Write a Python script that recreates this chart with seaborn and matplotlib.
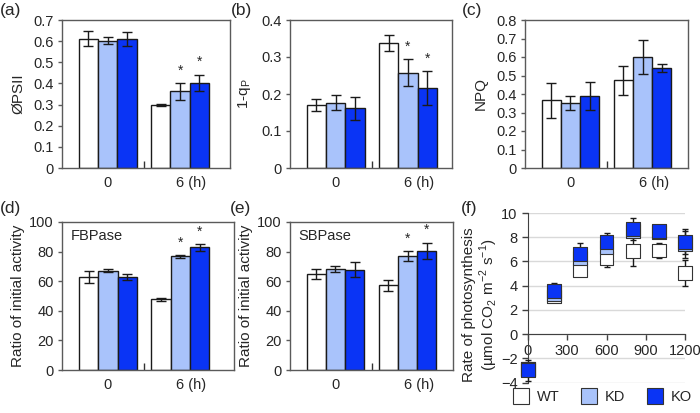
import numpy as np
import pandas as pd
import matplotlib
matplotlib.use("Agg")
import matplotlib.pyplot as plt
import matplotlib.transforms as mtransforms
from matplotlib.lines import Line2D
from matplotlib.ticker import FuncFormatter
import seaborn as sns

genotypes = ["WT", "KD", "KO"]
times = ["0", "6"]
colors = ["#ffffff", "#a9c3fb", "#0a34f5"]

# rows: WT, KD, KO ; columns: 0 h, 6 h
psii_mean = [[0.612, 0.300], [0.603, 0.363], [0.608, 0.403]]
psii_err = [[0.035, 0.005], [0.015, 0.040], [0.033, 0.038]]
psii_star = [[0, 0], [0, 1], [0, 1]]

qp_mean = [[0.170, 0.338], [0.176, 0.258], [0.161, 0.216]]
qp_err = [[0.016, 0.022], [0.020, 0.036], [0.032, 0.045]]
qp_star = [[0, 0], [0, 1], [0, 1]]

npq_mean = [[0.367, 0.474], [0.353, 0.601], [0.389, 0.540]]
npq_err = [[0.095, 0.077], [0.037, 0.093], [0.078, 0.022]]
npq_star = [[0, 0], [0, 0], [0, 0]]

fbp_mean = [[62.8, 47.9], [67.0, 76.7], [62.8, 82.8]]
fbp_err = [[3.8, 1.0], [1.1, 0.8], [2.0, 2.4]]
fbp_star = [[0, 0], [0, 1], [0, 1]]

sbp_mean = [[64.8, 57.1], [68.2, 77.0], [67.7, 80.4]]
sbp_err = [[3.6, 4.0], [1.9, 3.2], [5.0, 5.6]]
sbp_star = [[0, 0], [0, 1], [0, 1]]

light = [0, 200, 400, 600, 800, 1000, 1200]
photo_wt = [-2.9, 3.1, 5.3, 6.3, 6.85, 6.9, 5.05]
photo_wt_err = [0.3, 0.15, 0.3, 0.75, 1.2, 0.6, 1.1]
photo_kd = [-2.9, 3.3, 6.3, 7.2, 8.5, 8.4, 7.45]
photo_kd_err = [0.4, 0.3, 0.4, 0.6, 0.5, 0.5, 1.2]
photo_ko = [-3.0, 3.55, 6.6, 7.6, 8.7, 8.5, 7.6]
photo_ko_err = [0.85, 0.7, 0.9, 0.75, 0.9, 0.5, 0.95]

sns.set_style("ticks")
plt.rcParams["font.family"] = ["Liberation Sans", "DejaVu Sans"]
plt.rcParams["font.size"] = 10.5

SPINE = "#5a5a5a"
EDGE = "#1a1a1a"


def fmt(v, p):
    return "0" if abs(v) < 1e-9 else f"{v:g}"


def bar_panel(ax, mean, err, star, ylim, step, ylabel, xlim, pad, inset=None):
    rows = [(t, g, mean[i][j]) for i, g in enumerate(genotypes) for j, t in enumerate(times)]
    df = pd.DataFrame(rows, columns=["time", "genotype", "value"])
    sns.barplot(data=df, x="time", y="value", hue="genotype", order=times,
                hue_order=genotypes, palette=colors, saturation=1, width=0.8,
                edgecolor=EDGE, linewidth=1, errorbar=None, legend=False, ax=ax)
    centers = sorted(p.get_x() + p.get_width() / 2 for p in ax.patches)
    xs, ys, es, ss = [], [], [], []
    k = 0
    for j in range(len(times)):
        for i in range(len(genotypes)):
            xs.append(centers[k]); ys.append(mean[i][j]); es.append(err[i][j]); ss.append(star[i][j])
            k += 1
    ax.errorbar(xs, ys, yerr=es, fmt="none", ecolor=EDGE, elinewidth=1,
                capsize=3.8, capthick=1, zorder=3)
    for x, y, e, s in zip(xs, ys, es, ss):
        if s:
            ax.annotate("*", xy=(x, y + e), xytext=(0, 9), textcoords="offset points",
                        ha="center", va="center", fontsize=10)
    ax.set_xlim(*xlim)
    ax.set_ylim(*ylim)
    ax.set_yticks(np.arange(ylim[0], ylim[1] + step / 2, step))
    ax.yaxis.set_major_formatter(FuncFormatter(fmt))
    ax.set_xticks([0, 1])
    ax.set_xticklabels(["0", "6 (h)"])
    ax.set_xticks([0.5], minor=True)
    ax.tick_params(axis="x", which="major", length=0, pad=6, labelsize=10.5)
    ax.tick_params(axis="x", which="minor", direction="in", length=5, width=1, color="#333333")
    ax.tick_params(axis="y", direction="out", length=3, width=1, color=SPINE, pad=3, labelsize=10.5)
    shift = mtransforms.ScaledTranslation(8 / 72, 0, ax.figure.dpi_scale_trans)
    lab = ax.get_xticklabels()[1]
    lab.set_transform(lab.get_transform() + shift)
    ax.set_xlabel("")
    ax.set_ylabel(ylabel, fontsize=11, labelpad=pad)
    for sp in ax.spines.values():
        sp.set_visible(True)
        sp.set_color(SPINE)
        sp.set_linewidth(1)
    if inset:
        ax.annotate(inset, xy=(0, 1), xycoords="axes fraction", xytext=(6, -10),
                    textcoords="offset points", ha="left", va="center", fontsize=10.5)


fig = plt.figure(figsize=(7, 4.13), dpi=100)
H = 413.0
W = 700.0


def rect(x0, x1, y0, y1):
    return [x0 / W, (H - y1) / H, (x1 - x0) / W, (y1 - y0) / H]


ax_a = fig.add_axes(rect(62, 230, 20, 168))
ax_b = fig.add_axes(rect(290, 452, 20, 168))
ax_c = fig.add_axes(rect(525, 688, 20, 168))
ax_d = fig.add_axes(rect(62, 234, 222, 370))
ax_e = fig.add_axes(rect(290, 453, 222, 370))
ax_f = fig.add_axes(rect(528, 685, 213, 382.5))

bar_panel(ax_a, psii_mean, psii_err, psii_star, (0, 0.7), 0.1, "ØPSII", (-0.63, 1.69), 6)
bar_panel(ax_b, qp_mean, qp_err, qp_star, (0, 0.4), 0.1, "1-q$_\\mathregular{P}$", (-0.633, 1.61), 6)
bar_panel(ax_c, npq_mean, npq_err, npq_star, (0, 0.8), 0.1, "NPQ", (-0.63, 1.63), 6)
bar_panel(ax_d, fbp_mean, fbp_err, fbp_star, (0, 100), 20, "Ratio of initial activity", (-0.634, 1.74), 3, "FBPase")
bar_panel(ax_e, sbp_mean, sbp_err, sbp_star, (0, 100), 20, "Ratio of initial activity", (-0.63, 1.63), 3, "SBPase")

# panel (f)
fdf = pd.DataFrame({
    "light": light * 3,
    "rate": photo_wt + photo_kd + photo_ko,
    "err": photo_wt_err + photo_kd_err + photo_ko_err,
    "genotype": ["WT"] * len(light) + ["KD"] * len(light) + ["KO"] * len(light),
})
for g in genotypes:
    sub = fdf[fdf["genotype"] == g]
    ax_f.errorbar(sub["light"], sub["rate"], yerr=sub["err"], fmt="none", ecolor=EDGE,
                  elinewidth=1, capsize=2, capthick=1, zorder=3, clip_on=False)
sns.scatterplot(data=fdf, x="light", y="rate", hue="genotype", hue_order=genotypes,
                palette=colors, marker="s", s=100, edgecolor="#333333", linewidth=0.8,
                legend=False, ax=ax_f, zorder=4)
ax_f.collections[-1].set_clip_on(False)
ax_f.set_xlim(0, 1200)
ax_f.set_ylim(-4, 10)
ax_f.set_yticks(range(-4, 11, 2))
ax_f.set_xticks(range(0, 1201, 300))
ax_f.yaxis.grid(True, color="#d9d9d9", linewidth=1)
ax_f.set_axisbelow(True)
ax_f.spines["bottom"].set_position(("data", 0))
ax_f.spines["bottom"].set_color("#404040")
ax_f.spines["left"].set_color("#404040")
ax_f.spines["top"].set_visible(False)
ax_f.spines["right"].set_visible(False)
ax_f.tick_params(axis="both", direction="out", length=4, width=1, color="#404040", labelsize=10.5)
ax_f.tick_params(axis="x", pad=3)
ax_f.set_xlabel("")
ax_f.set_ylabel("Rate of photosynthesis\n(µmol CO$_\\mathregular{2}$ m$^\\mathregular{-2}$ s$^\\mathregular{-1}$)",
                fontsize=11, labelpad=1, linespacing=1.1)
ax_f.yaxis.label.set_y(0.46)

handles = [Line2D([], [], linestyle="none", marker="s", markersize=11.5,
                  markerfacecolor=c, markeredgecolor="#333333", markeredgewidth=0.8)
           for c in colors]
fig.legend(handles, genotypes, loc="center", bbox_to_anchor=(0.86, 0.039), ncol=3,
           frameon=False, handlelength=1.2, handletextpad=0.5, columnspacing=1.4,
           fontsize=10.5)

for lbl, x, y in [("(a)", 0, 10), ("(b)", 231, 10), ("(c)", 462, 10),
                  ("(d)", 0, 208), ("(e)", 230, 208), ("(f)", 461, 208)]:
    fig.text(x / W, (H - y) / H, lbl, fontsize=12.5, ha="left", va="center")

fig.savefig("out.png", dpi=100)
